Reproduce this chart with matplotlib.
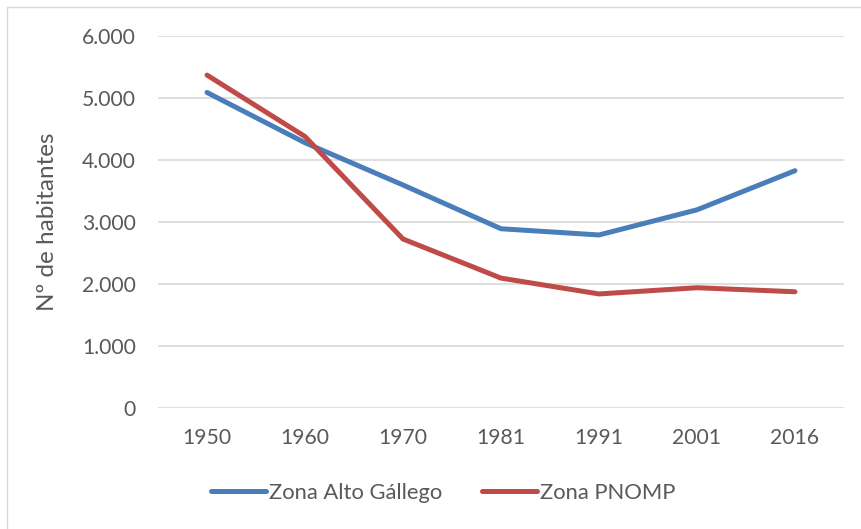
# Poblacion de las zonas Alto Gallego y PNOMP

import matplotlib
matplotlib.use('Agg')
import matplotlib.pyplot as plt
from matplotlib.ticker import FuncFormatter
from matplotlib.patches import Rectangle

# Datos

anios = ['1950', '1960', '1970', '1981', '1991', '2001', '2016']
alto_gallego = [5090, 4280, 3600, 2895, 2795, 3200, 3830]
pnomp = [5370, 4380, 2730, 2100, 1845, 1945, 1880]
marcas_y = [0, 1000, 2000, 3000, 4000, 5000, 6000]

azul = '#4A7EBB'
rojo = '#BE4B48'
gris = '#595959'

plt.rcParams['font.family'] = ['Lato', 'DejaVu Sans']

fig = plt.figure(figsize=(8.62, 5.29), dpi=100)
ax = fig.add_axes([0.1833, 0.2278, 0.7958, 0.7042])

# Marco exterior
fig.patches.append(Rectangle((7 / 862, -0.01), 1.0, 1 - 7 / 529 + 0.01,
                             transform=fig.transFigure, fill=False,
                             edgecolor='#D9D9D9', linewidth=1))

x = range(len(anios))
ax.plot(x, alto_gallego, color=azul, linewidth=3.6, solid_capstyle='round',
        label='Zona Alto Gállego', zorder=3)
ax.plot(x, pnomp, color=rojo, linewidth=3.6, solid_capstyle='round',
        label='Zona PNOMP', zorder=3)

ax.set_xlim(-0.5, len(anios) - 0.5)
ax.set_ylim(0, 6000)
ax.set_xticks(list(x))
ax.set_xticklabels(anios)
ax.set_yticks(marcas_y)
ax.yaxis.set_major_formatter(FuncFormatter(lambda v, p: f'{int(v):,}'.replace(',', '.')))

ax.grid(axis='y', color='#D9D9D9', linewidth=1.2)
ax.set_axisbelow(True)
for s in ax.spines.values():
    s.set_visible(False)
ax.tick_params(length=0, labelsize=15.2, labelcolor=gris)
ax.tick_params(axis='y', pad=16)
ax.tick_params(axis='x', pad=14)

ax.set_ylabel('Nº de habitantes', fontsize=17.5, color=gris)
ax.yaxis.set_label_coords(-0.146, 0.5)

ax.legend(loc='center', bbox_to_anchor=(0.416, -0.227),
          ncol=2, frameon=False, fontsize=15.8, labelcolor=gris,
          handlelength=2.5, handletextpad=0.15, columnspacing=1.8)

fig.savefig('out.png', dpi=100)
